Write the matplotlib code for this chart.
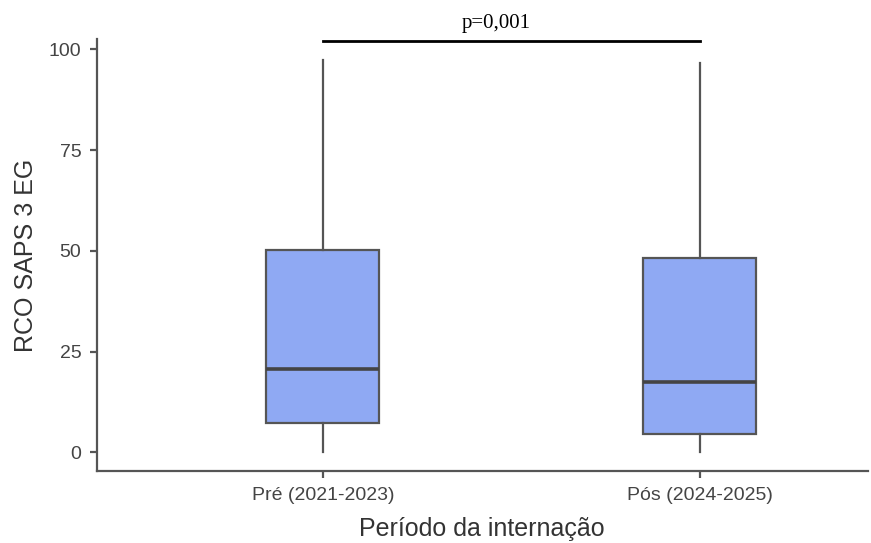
import matplotlib
matplotlib.use('Agg')
import matplotlib.pyplot as plt

groups = ['Pré (2021-2023)', 'Pós (2024-2025)']
whislo = [0.2, 0.2]
q1 = [7.2, 4.5]
med = [20.6, 17.4]
q3 = [50.3, 48.2]
whishi = [97.4, 96.7]
p_text = 'p=0,001'

plt.rcParams['font.family'] = ['Liberation Sans', 'DejaVu Sans']

fig = plt.figure(figsize=(8.71, 5.43), dpi=100)
ax = fig.add_axes([0.111, 0.132, 0.885, 0.797])

stats = [dict(label=g, whislo=a, q1=b, med=c, q3=d, whishi=e, fliers=[])
         for g, a, b, c, d, e in zip(groups, whislo, q1, med, q3, whishi)]
ax.bxp(stats, positions=[1, 2], widths=0.3, patch_artist=True, showcaps=False,
       boxprops=dict(facecolor='#8fa9f3', edgecolor='#555555', linewidth=1.6),
       medianprops=dict(color='#444444', linewidth=2.6),
       whiskerprops=dict(color='#555555', linewidth=1.6))

ax.set_xlim(0.40, 2.445)
ax.set_ylim(-4.7, 102.7)
ax.set_yticks([0, 25, 50, 75, 100])

for s in ['top', 'right']:
    ax.spines[s].set_visible(False)
for s in ['left', 'bottom']:
    ax.spines[s].set_color('#555555')
    ax.spines[s].set_linewidth(1.6)
ax.tick_params(axis='both', direction='out', length=5, width=1.6, color='#555555',
               labelsize=14, labelcolor='#444444', pad=6)

ax.set_xlabel('Período da internação', fontsize=18, color='#333333', labelpad=10)
ax.set_ylabel('RCO SAPS 3 EG', fontsize=18, color='#333333', labelpad=8)

# significance bracket
ax.plot([1, 2], [102, 102], color='black', linewidth=2, clip_on=False)
ax.text(1.46, 104, p_text, ha='center', va='bottom', fontsize=15,
        family='Liberation Serif', clip_on=False)

fig.savefig('out.png', dpi=100)
